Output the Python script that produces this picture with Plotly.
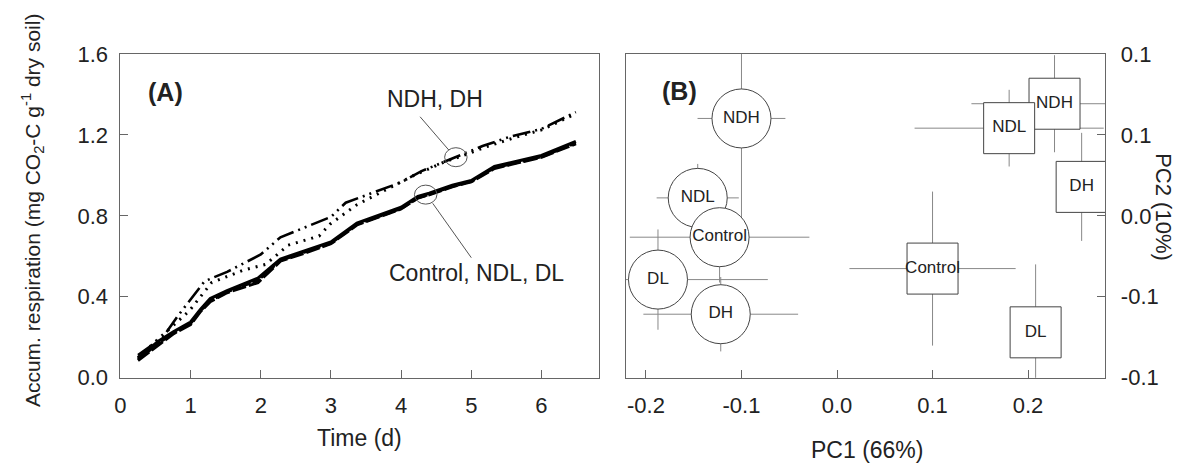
import plotly.graph_objects as go

# ---------------- Panel A data (accumulated respiration) ----------------
t_dashdot = [0.25, 0.60, 0.82, 1.03, 1.20, 1.52, 2.00, 2.28, 2.61, 3.00, 3.21, 3.64, 4.00, 4.29, 4.78, 5.16, 5.54, 6.00, 6.49]
r_dashdot = [0.112, 0.197, 0.306, 0.400, 0.477, 0.523, 0.609, 0.694, 0.741, 0.795, 0.865, 0.920, 0.966, 1.021, 1.090, 1.145, 1.190, 1.230, 1.313]

t_dotted = [0.25, 0.65, 0.98, 1.30, 1.74, 2.07, 2.39, 2.83, 2.99, 3.37, 3.75, 4.18, 4.62, 4.90, 5.20, 5.60, 6.00, 6.49]
r_dotted = [0.100, 0.228, 0.330, 0.470, 0.530, 0.560, 0.655, 0.700, 0.760, 0.855, 0.922, 1.000, 1.067, 1.100, 1.140, 1.185, 1.225, 1.305]

t_low = [0.25, 0.54, 0.76, 1.00, 1.14, 1.28, 1.52, 1.96, 2.28, 2.61, 3.00, 3.37, 4.00, 4.24, 4.40, 4.73, 5.00, 5.33, 6.00, 6.49]
r_control = [0.096, 0.180, 0.228, 0.275, 0.337, 0.391, 0.430, 0.492, 0.586, 0.624, 0.671, 0.764, 0.842, 0.896, 0.912, 0.951, 0.974, 1.044, 1.098, 1.168]
r_ndl = [0.090, 0.170, 0.222, 0.268, 0.330, 0.380, 0.424, 0.482, 0.580, 0.618, 0.665, 0.758, 0.836, 0.890, 0.906, 0.946, 0.970, 1.038, 1.092, 1.160]
r_dl = [0.085, 0.162, 0.218, 0.262, 0.326, 0.376, 0.420, 0.470, 0.576, 0.614, 0.662, 0.755, 0.834, 0.888, 0.904, 0.944, 0.968, 1.034, 1.090, 1.156]

time_ticks = [0, 1, 2, 3, 4, 5, 6]
resp_ticks = [0.0, 0.4, 0.8, 1.2, 1.6]
resp_ticktext = ["0.0", "0.4", "0.8", "1.2", "1.6"]

# ---------------- Panel B data (PCA scores) ----------------
circ_labels = ["NDH", "NDL", "Control", "DL", "DH"]
circ_pc1 = [-0.100, -0.1458, -0.1229, -0.1874, -0.1217]
circ_pc2 = [0.0602, 0.0111, -0.0132, -0.0394, -0.0608]
circ_e1 = [0.046, 0.043, 0.094, 0.115, 0.081]
circ_e2 = [0.067, 0.021, 0.028, 0.031, 0.023]

sq_labels = ["NDH", "NDL", "DH", "Control", "DL"]
sq_pc1 = [0.2277, 0.1802, 0.2561, 0.100, 0.2079]
sq_pc2 = [0.0693, 0.0542, 0.0179, -0.0326, -0.0720]
sq_e1 = [0.087, 0.099, 0.020, 0.087, 0.020]
sq_e2 = [0.030, 0.0237, 0.0334, 0.0476, 0.042]

pc1_tickvals = [-0.2, -0.1, 0.0, 0.1, 0.2]
pc1_ticktext = ["-0.2", "-0.1", "0.0", "0.1", "0.2"]
pc2_tickvals = [-0.10, -0.05, 0.0, 0.05, 0.10]
pc2_ticktext = ["-0.1", "-0.1", "0.0", "0.1", "0.1"]

FONT = "Liberation Sans, Arial, sans-serif"
TXT = "#222"
FRAME = "#666"
TICK_SIZE = 22
TITLE_SIZE = 23

fig = go.Figure()

# Panel A lines
fig.add_trace(go.Scatter(x=t_dotted, y=r_dotted, mode="lines", xaxis="x", yaxis="y",
                         line=dict(color="black", width=3, dash="2px,6px")))
fig.add_trace(go.Scatter(x=t_dashdot, y=r_dashdot, mode="lines", xaxis="x", yaxis="y",
                         line=dict(color="black", width=2.6, dash="18px,5px,2px,5px,2px,5px")))
fig.add_trace(go.Scatter(x=t_low, y=r_dl, mode="lines", xaxis="x", yaxis="y",
                         line=dict(color="black", width=3, dash="14px,3px")))
fig.add_trace(go.Scatter(x=t_low, y=r_ndl, mode="lines", xaxis="x", yaxis="y",
                         line=dict(color="black", width=3, dash="8px,2px")))
fig.add_trace(go.Scatter(x=t_low, y=r_control, mode="lines", xaxis="x", yaxis="y",
                         line=dict(color="black", width=3.2)))

# Panel B
err_style = dict(color="#888", thickness=1, width=0)
fig.add_trace(go.Scatter(
    x=circ_pc1, y=circ_pc2, mode="markers+text", text=circ_labels, xaxis="x2", yaxis="y2",
    textposition="middle center", textfont=dict(family=FONT, size=17, color=TXT),
    marker=dict(symbol="circle", size=59, color="white", line=dict(color="#444", width=1)),
    error_x=dict(type="data", array=circ_e1, visible=True, **err_style),
    error_y=dict(type="data", array=circ_e2, visible=True, **err_style),
    cliponaxis=True))
fig.add_trace(go.Scatter(
    x=sq_pc1, y=sq_pc2, mode="markers+text", text=sq_labels, xaxis="x2", yaxis="y2",
    textposition="middle center", textfont=dict(family=FONT, size=17, color=TXT),
    marker=dict(symbol="square", size=51, color="white", line=dict(color="#444", width=1)),
    error_x=dict(type="data", array=sq_e1, visible=True, **err_style),
    error_y=dict(type="data", array=sq_e2, visible=True, **err_style),
    cliponaxis=True))

tickfont = dict(family=FONT, size=TICK_SIZE, color=TXT)
ax_common = dict(showline=True, linecolor=FRAME, linewidth=1, mirror=True, ticks="inside",
                 ticklen=8, tickcolor=FRAME, showgrid=False, zeroline=False, tickfont=tickfont)

# annotation positions (panel A, data coordinates)
c1 = (4.78, 1.09)
c2 = (4.35, 0.905)
rx, ry = 0.16, 0.047

def ann(text, x, y, xref, yref, size, bold=False, angle=0, xanchor="center"):
    return dict(text=f"<b>{text}</b>" if bold else text, x=x, y=y, xref=xref, yref=yref,
                showarrow=False, textangle=angle, xanchor=xanchor, yanchor="middle",
                font=dict(family=FONT, size=size, color=TXT))

fig.update_layout(
    width=1184, height=464, margin=dict(l=0, r=0, t=0, b=0),
    paper_bgcolor="white", plot_bgcolor="white", showlegend=False,
    font=dict(family=FONT, color=TXT),
    xaxis=dict(domain=[107/1184, 588/1184], range=[0, 6.82], tickvals=time_ticks,
               anchor="y", ticklabelstandoff=8, **ax_common),
    yaxis=dict(domain=[1 - 378/464, 1 - 36/464], range=[0, 1.6], tickvals=resp_ticks,
               ticktext=resp_ticktext, anchor="x", ticklabelstandoff=7, **ax_common),
    xaxis2=dict(domain=[615/1184, 1097/1184], range=[-0.221, 0.281], tickvals=pc1_tickvals,
                ticktext=pc1_ticktext, anchor="y2", ticklabelstandoff=8, **ax_common),
    yaxis2=dict(domain=[1 - 378/464, 1 - 36/464], range=[-0.1, 0.1], tickvals=pc2_tickvals,
                ticktext=pc2_ticktext, side="right", anchor="x2", ticklabelstandoff=10, **ax_common),
    shapes=[
        dict(type="circle", xref="x", yref="y", x0=c1[0]-rx, x1=c1[0]+rx, y0=c1[1]-ry, y1=c1[1]+ry,
             line=dict(color="#555", width=1)),
        dict(type="circle", xref="x", yref="y", x0=c2[0]-rx, x1=c2[0]+rx, y0=c2[1]-ry, y1=c2[1]+ry,
             line=dict(color="#555", width=1)),
        dict(type="line", xref="x", yref="y", x0=4.27, y0=1.29, x1=4.68, y1=1.125,
             line=dict(color="#555", width=1)),
        dict(type="line", xref="x", yref="y", x0=4.45, y0=0.862, x1=5.0, y1=0.593,
             line=dict(color="#555", width=1)),
    ],
    annotations=[
        ann("(A)", 0.64, 1.41, "x", "y", 25, bold=True),
        ann("(B)", -0.165, 0.077, "x2", "y2", 25, bold=True),
        ann("NDH, DH", 3.77, 1.38, "x", "y", 23, xanchor="left"),
        ann("Control, NDL, DL", 3.80, 0.515, "x", "y", 23, xanchor="left"),
        ann("Time (d)", 347/1184, 1 - 442/464, "paper", "paper", TITLE_SIZE),
        ann("PC1 (66%)", 857/1184, 1 - 454/464, "paper", "paper", TITLE_SIZE),
        ann("Accum. respiration (mg CO<sub>2</sub>-C g<sup>-1</sup> dry soil)", 18/1184, 1 - 201/464,
            "paper", "paper", 21, angle=-90),
        ann("PC2 (10%)", 1156/1184, 1 - 198/464, "paper", "paper", 22, angle=90),
    ],
)

fig.write_html("out.html")
